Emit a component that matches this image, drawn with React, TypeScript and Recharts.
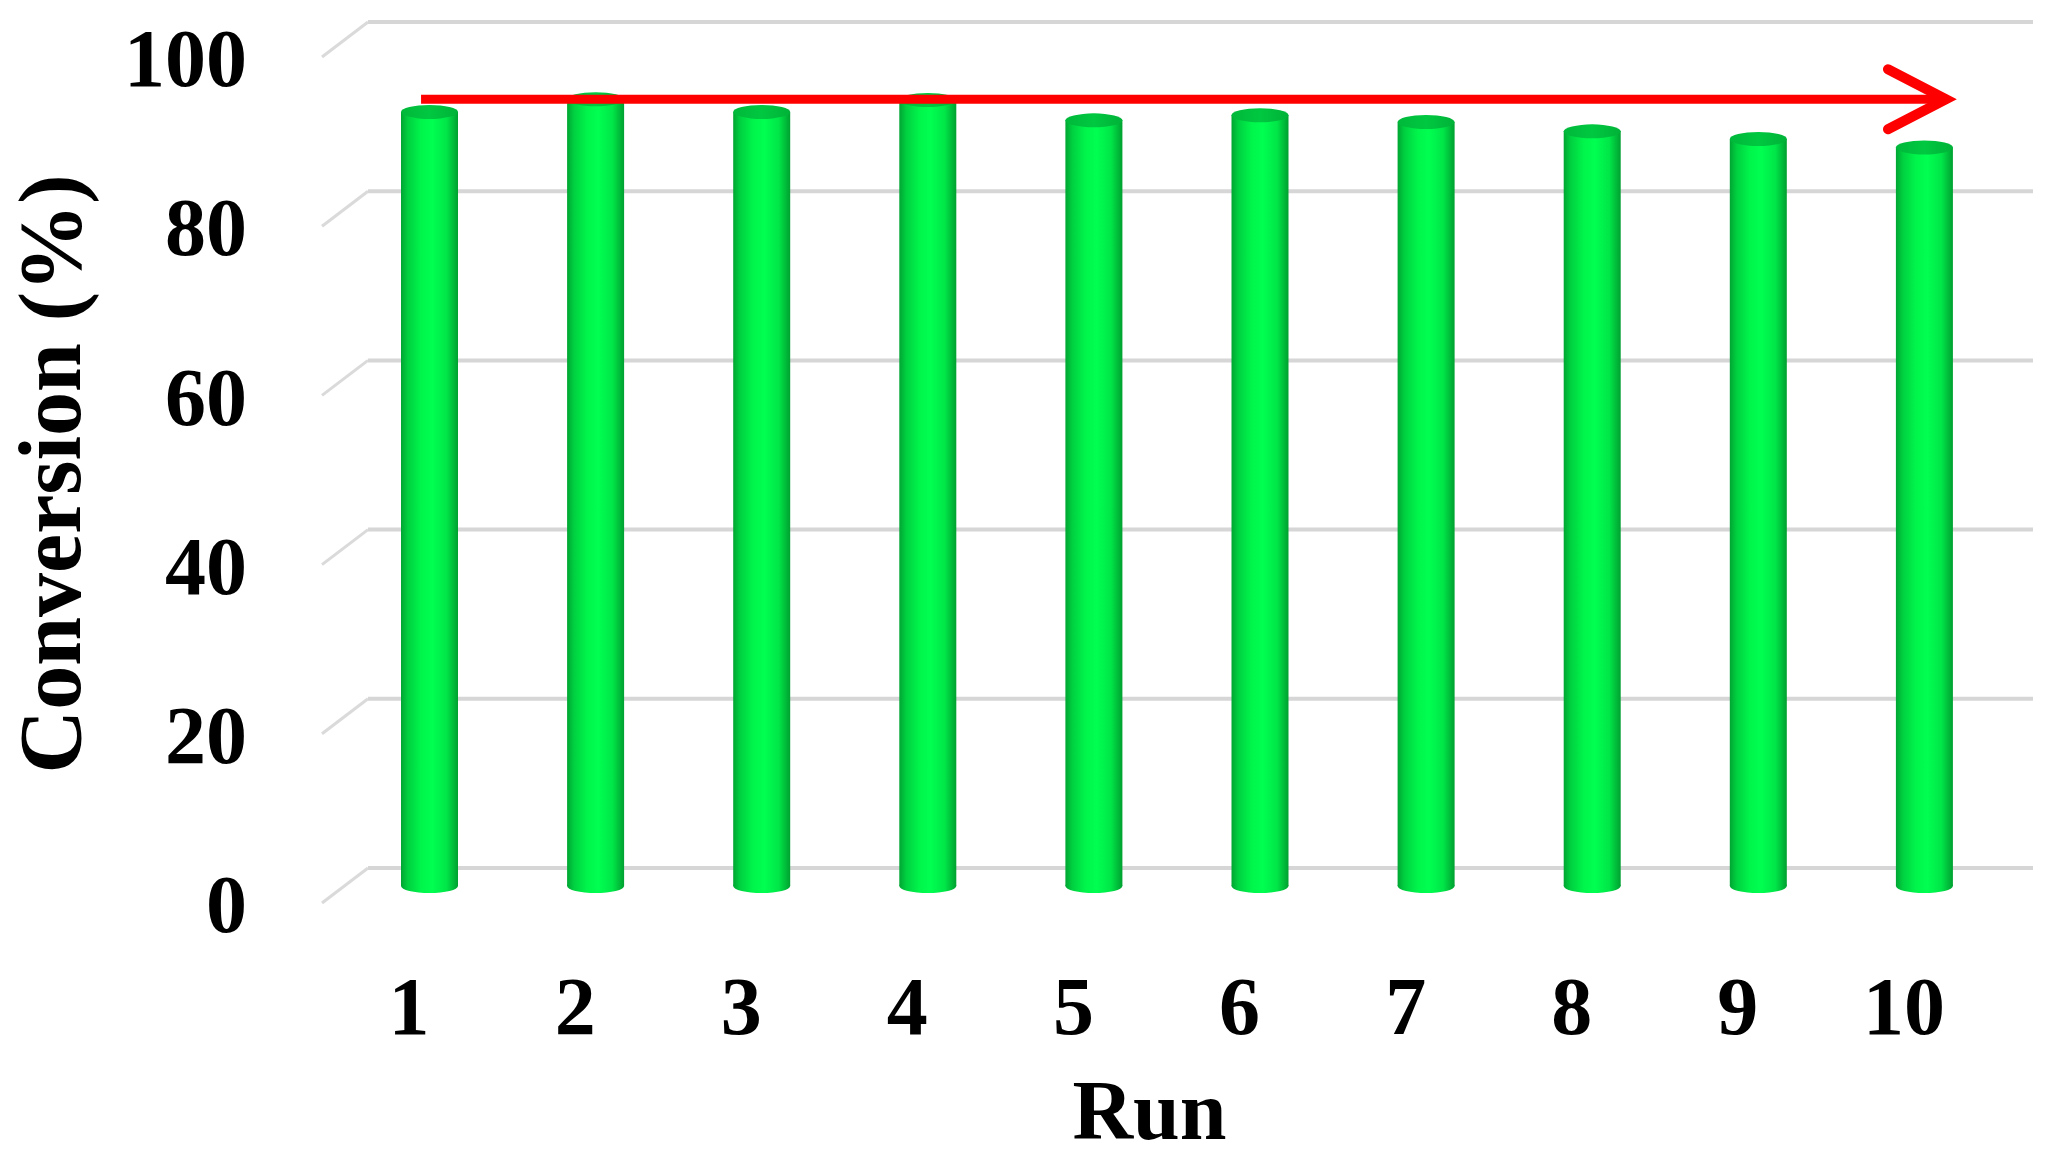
import { BarChart, Bar, XAxis, YAxis, CartesianGrid, ReferenceLine } from "recharts";

const runs = ["1", "2", "3", "4", "5", "6", "7", "8", "9", "10"];
const conversion = [91.5, 93.0, 91.5, 92.9, 90.5, 91.1, 90.3, 89.2, 88.3, 87.3];
const yTicks = [0, 20, 40, 60, 80, 100];
const arrowLevel = 93;

const data = runs.map((run, i) => ({ run, conversion: conversion[i] }));

const FONT = "'Liberation Serif', 'Times New Roman', serif";

// cylinder-like bar, like the excel 3d column
function Cylinder(props: any) {
  const { x, y, width, height } = props;
  const rx = width / 2;
  const cx = x + rx;
  return (
    <g>
      <ellipse cx={cx} cy={y + height} rx={rx} ry={7} fill="url(#cylBody)" />
      <rect x={x} y={y} width={width} height={height} fill="url(#cylBody)" />
      <ellipse cx={cx} cy={y} rx={rx} ry={7} fill="url(#cylTop)" />
    </g>
  );
}

// back wall line + diagonal floor line, 3d look
function WallLine(props: any) {
  const { x1, x2, y1, index } = props;
  return (
    <g key={"wall-" + index}>
      <line x1={x1 - 24} y1={y1 + 17} x2={x1 + 22} y2={y1 - 18} stroke="#dadada" strokeWidth={3} />
      <line x1={x1 + 22} y1={y1 - 18} x2={x2 + 26} y2={y1 - 18} stroke="#d6d6d6" strokeWidth={4} />
    </g>
  );
}

function YTick(props: any) {
  const { x, y, payload } = props;
  return (
    <text x={x} y={y + 17} dy="0.355em" textAnchor="end" fontFamily={FONT} fontWeight="bold" fontSize={82} fill="#000">
      {payload.value}
    </text>
  );
}

function XTick(props: any) {
  const { x, y, payload } = props;
  return (
    <text x={x - 20} y={y + 119} dy="0.355em" textAnchor="middle" fontFamily={FONT} fontWeight="bold" fontSize={82} fill="#000">
      {payload.value}
    </text>
  );
}

function XTitle(props: any) {
  const vb = props.viewBox || {};
  return (
    <text x={vb.x + vb.width / 2 - 27} y={vb.y + 253} textAnchor="middle" fontFamily={FONT} fontWeight="bold" fontSize={84} fill="#000">
      Run
    </text>
  );
}

function YTitle(props: any) {
  const vb = props.viewBox || {};
  const cx = vb.x + 49;
  const cy = vb.y + vb.height / 2 + 11;
  return (
    <text x={cx} y={cy} dy="0.35em" textAnchor="middle" transform={`rotate(-90 ${cx} ${cy})`} fontFamily={FONT} fontWeight="bold" fontSize={88} fill="#000">
      Conversion (%)
    </text>
  );
}

function Arrow(props: any) {
  const { x1, x2, y1 } = props;
  const tip = x2 + 22;
  return (
    <g>
      <line x1={x1 - 8} y1={y1} x2={tip - 4} y2={y1} stroke="#ff0000" strokeWidth={9} />
      <polyline
        points={`${tip - 58},${y1 - 30} ${tip},${y1} ${tip - 58},${y1 + 30}`}
        fill="none"
        stroke="#ff0000"
        strokeWidth={10}
        strokeLinecap="round"
      />
    </g>
  );
}

export default function App() {
  return (
    <div style={{ position: "absolute", left: 0, top: 0, background: "#fff" }}>
      <BarChart width={2047} height={1160} data={data} margin={{ top: 40, right: 40, bottom: 0, left: 0 }}>
        <defs>
          <linearGradient id="cylBody" x1="0" y1="0" x2="1" y2="0">
            <stop offset="0%" stopColor="#00a532" />
            <stop offset="12%" stopColor="#00d040" />
            <stop offset="35%" stopColor="#00f54b" />
            <stop offset="55%" stopColor="#00ff50" />
            <stop offset="80%" stopColor="#00e648" />
            <stop offset="100%" stopColor="#00a030" />
          </linearGradient>
          <linearGradient id="cylTop" x1="0" y1="0" x2="1" y2="0">
            <stop offset="0%" stopColor="#00b83a" />
            <stop offset="50%" stopColor="#00c840" />
            <stop offset="100%" stopColor="#00b238" />
          </linearGradient>
        </defs>
        <CartesianGrid vertical={false} horizontal={WallLine} />
        <XAxis
          dataKey="run"
          height={274}
          axisLine={false}
          tickLine={false}
          tickSize={0}
          tickMargin={0}
          interval={0}
          tick={<XTick />}
          label={<XTitle />}
        />
        <YAxis
          width={346}
          domain={[0, 100]}
          ticks={yTicks}
          axisLine={false}
          tickLine={false}
          tickSize={0}
          tickMargin={99}
          tick={<YTick />}
          label={<YTitle />}
        />
        <Bar dataKey="conversion" barSize={57} shape={<Cylinder />} isAnimationActive={false} />
        <ReferenceLine
          segment={[
            { x: runs[0], y: arrowLevel },
            { x: runs[runs.length - 1], y: arrowLevel },
          ]}
          shape={Arrow}
        />
      </BarChart>
    </div>
  );
}
